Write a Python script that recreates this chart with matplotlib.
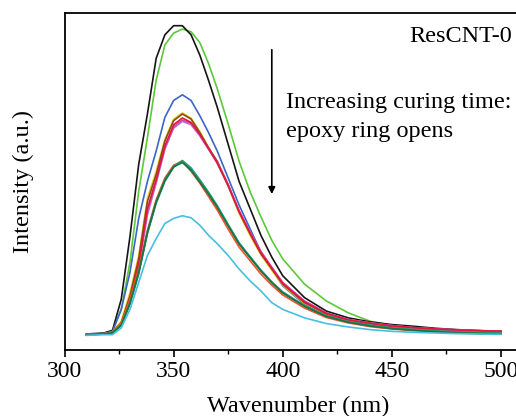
import matplotlib
matplotlib.use('Agg')
import matplotlib.pyplot as plt
from matplotlib.ticker import MultipleLocator

plt.rcParams['font.family'] = ['Liberation Serif', 'DejaVu Serif']

# wavelength grid (nm) the spectra were read at
wl = [310, 318, 322, 326, 330, 334, 338, 342, 346, 350, 354, 358, 362, 366, 370,
      375, 380, 385, 390, 395, 400, 410, 420, 430, 440, 450, 460, 470, 480, 490, 500]

# fluorescence intensity (a.u.), one list per curing time
s_black = [0.047, 0.050, 0.058, 0.150, 0.336, 0.550, 0.700, 0.865, 0.935, 0.962, 0.962, 0.935, 0.875, 0.800, 0.720,
           0.610, 0.500, 0.420, 0.340, 0.275, 0.220, 0.155, 0.115, 0.095, 0.083, 0.075, 0.070, 0.064, 0.060, 0.057, 0.055]
s_lime = [0.045, 0.048, 0.055, 0.120, 0.260, 0.470, 0.630, 0.800, 0.905, 0.940, 0.952, 0.944, 0.912, 0.850, 0.775,
          0.670, 0.560, 0.470, 0.395, 0.325, 0.270, 0.195, 0.145, 0.110, 0.085, 0.073, 0.066, 0.062, 0.058, 0.056, 0.055]
s_blue = [0.045, 0.048, 0.055, 0.120, 0.230, 0.390, 0.500, 0.590, 0.690, 0.740, 0.757, 0.740, 0.695, 0.645, 0.590,
          0.510, 0.430, 0.360, 0.290, 0.240, 0.190, 0.135, 0.103, 0.085, 0.075, 0.068, 0.063, 0.059, 0.056, 0.054, 0.052]
s_yellow = [0.045, 0.048, 0.053, 0.085, 0.170, 0.280, 0.450, 0.530, 0.625, 0.685, 0.703, 0.688, 0.648, 0.600, 0.555,
            0.485, 0.405, 0.340, 0.282, 0.236, 0.192, 0.138, 0.106, 0.087, 0.077, 0.069, 0.064, 0.060, 0.057, 0.055, 0.053]
s_brown = [0.045, 0.048, 0.053, 0.080, 0.160, 0.270, 0.440, 0.520, 0.620, 0.680, 0.700, 0.685, 0.645, 0.600, 0.560,
           0.490, 0.410, 0.345, 0.285, 0.240, 0.195, 0.140, 0.107, 0.088, 0.078, 0.070, 0.065, 0.061, 0.058, 0.056, 0.054]
s_red = [0.045, 0.047, 0.052, 0.078, 0.150, 0.255, 0.420, 0.505, 0.605, 0.668, 0.688, 0.675, 0.640, 0.598, 0.555,
         0.487, 0.410, 0.347, 0.288, 0.242, 0.197, 0.142, 0.108, 0.089, 0.079, 0.071, 0.066, 0.062, 0.059, 0.057, 0.055]
s_magenta = [0.045, 0.047, 0.052, 0.076, 0.145, 0.250, 0.410, 0.500, 0.600, 0.662, 0.682, 0.672, 0.638, 0.597, 0.556,
             0.490, 0.414, 0.350, 0.292, 0.245, 0.200, 0.145, 0.110, 0.090, 0.080, 0.072, 0.066, 0.062, 0.059, 0.057, 0.055]
s_violet = [0.045, 0.047, 0.052, 0.075, 0.140, 0.245, 0.400, 0.495, 0.595, 0.658, 0.678, 0.668, 0.635, 0.595, 0.554,
            0.488, 0.412, 0.349, 0.291, 0.244, 0.199, 0.144, 0.109, 0.090, 0.080, 0.072, 0.066, 0.062, 0.059, 0.057, 0.055]
s_orange = [0.045, 0.047, 0.051, 0.080, 0.150, 0.240, 0.355, 0.445, 0.510, 0.548, 0.560, 0.530, 0.495, 0.455, 0.415,
            0.358, 0.305, 0.265, 0.225, 0.192, 0.163, 0.124, 0.096, 0.080, 0.069, 0.062, 0.057, 0.053, 0.050, 0.048, 0.047]
s_green = [0.045, 0.047, 0.050, 0.075, 0.140, 0.230, 0.350, 0.440, 0.505, 0.545, 0.560, 0.535, 0.500, 0.465, 0.425,
           0.370, 0.315, 0.275, 0.235, 0.200, 0.170, 0.130, 0.100, 0.083, 0.072, 0.064, 0.059, 0.055, 0.052, 0.050, 0.048]
s_teal = [0.045, 0.047, 0.050, 0.072, 0.135, 0.225, 0.345, 0.435, 0.500, 0.542, 0.562, 0.540, 0.505, 0.468, 0.428,
          0.372, 0.318, 0.277, 0.237, 0.202, 0.172, 0.131, 0.101, 0.084, 0.073, 0.065, 0.060, 0.056, 0.053, 0.051, 0.049]
s_dkgreen = [0.045, 0.047, 0.050, 0.073, 0.138, 0.228, 0.348, 0.438, 0.503, 0.543, 0.556, 0.533, 0.498, 0.462, 0.423,
             0.368, 0.314, 0.274, 0.234, 0.199, 0.169, 0.129, 0.099, 0.082, 0.071, 0.063, 0.058, 0.054, 0.051, 0.049, 0.047]
s_cyan = [0.043, 0.045, 0.045, 0.065, 0.120, 0.200, 0.280, 0.330, 0.375, 0.390, 0.398, 0.392, 0.370, 0.340, 0.315,
          0.280, 0.240, 0.205, 0.175, 0.140, 0.120, 0.095, 0.078, 0.068, 0.060, 0.055, 0.052, 0.050, 0.048, 0.047, 0.046]

spectra = [s_lime, s_black, s_blue, s_yellow, s_brown, s_violet, s_magenta, s_red,
           s_orange, s_teal, s_green, s_dkgreen, s_cyan]
colors = ['#5cc83a', '#151515', '#3a66c8', '#e6d21a', '#8a4a1c', '#b878d8', '#d04aa8', '#e0163e',
          '#f5502a', '#129a94', '#35a040', '#1d7048', '#48bfe0']

fig = plt.figure(figsize=(5.16, 4.16), dpi=100)
# right edge sits past the canvas so only the left/top/bottom frame shows
ax = fig.add_axes([0.125, 0.159, 0.905, 0.810])

for s, c in zip(spectra, colors):
  ax.plot(wl, s, color=c, lw=1.2)

ax.set_xlim(300, 514)
ax.set_ylim(0, 1)
ax.xaxis.set_major_locator(MultipleLocator(50))
ax.xaxis.set_minor_locator(MultipleLocator(25))
ax.tick_params(axis='x', which='major', direction='out', length=5, width=1.2, labelsize=17, pad=3)
ax.tick_params(axis='x', which='minor', direction='out', length=3, width=1.0)
ax.set_yticks([])
for sp in ax.spines.values():
  sp.set_linewidth(1.3)

ax.set_xlabel('Wavenumber (nm)', fontsize=17.5, labelpad=10)
ax.set_ylabel('Intensity (a.u.)', fontsize=17.5, labelpad=22)

ax.text(505, 0.93, 'ResCNT-0', fontsize=17.5, ha='right', va='center')
ax.text(401.5, 0.735, 'Increasing curing time:', fontsize=17.5, ha='left', va='center')
ax.text(401.5, 0.648, 'epoxy ring opens', fontsize=17.5, ha='left', va='center')
ax.annotate('', xy=(395, 0.454), xytext=(395, 0.899),
            arrowprops=dict(arrowstyle='-|>', color='black', lw=1.2, mutation_scale=10))

fig.savefig('out.png', dpi=100)
